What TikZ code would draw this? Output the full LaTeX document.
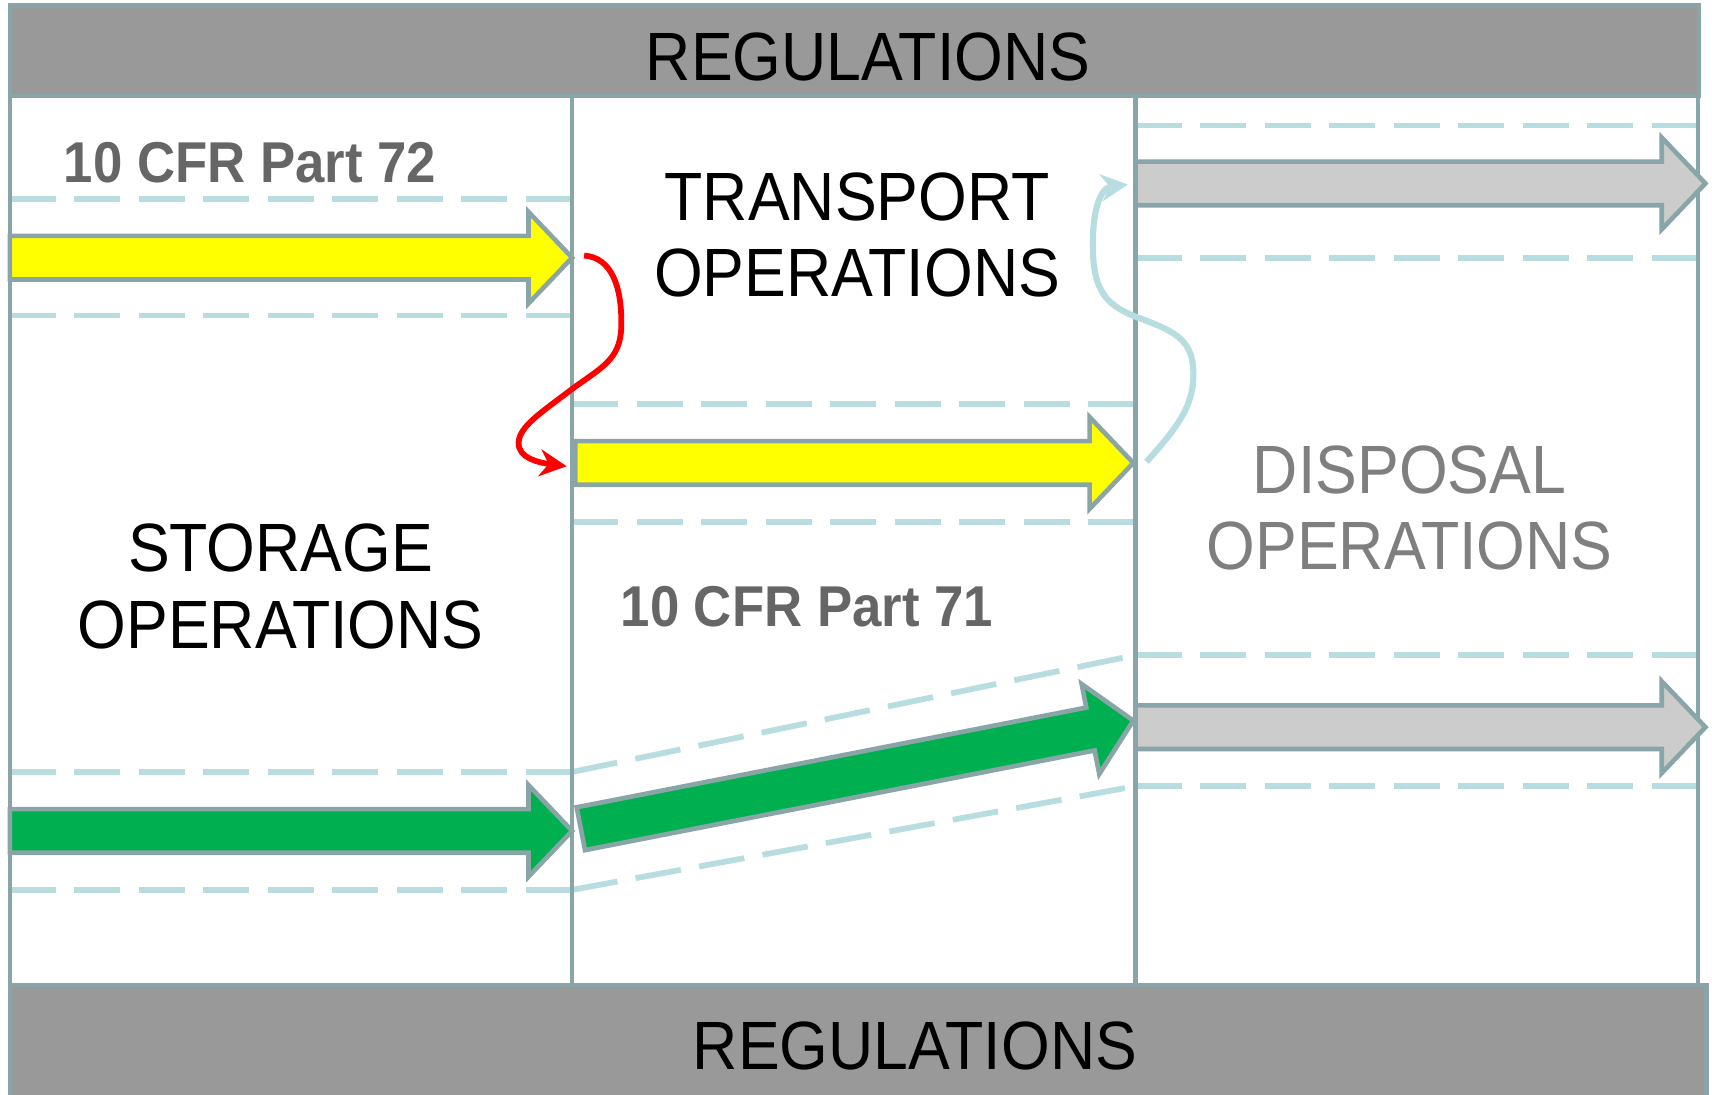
\documentclass[tikz,border=0pt]{standalone}
\usepackage{fontspec}
\setmainfont[FakeStretch=0.916]{Liberation Sans}
\usetikzlibrary{arrows.meta}

\definecolor{bandgray}{HTML}{999999}
\definecolor{framegray}{HTML}{8AA5A8}
\definecolor{lanecyan}{HTML}{B7DDE0}
\definecolor{partgray}{HTML}{666666}
\definecolor{disposalgray}{HTML}{7F7F7F}
\definecolor{flowgray}{HTML}{CCCCCC}
\definecolor{flowgreen}{HTML}{00B050}
\definecolor{flowyellow}{HTML}{FFFF00}

\tikzset{
  colline/.style={draw=framegray, line width=1.2pt},
  band/.style={colline, fill=bandgray},
  lane/.style={draw=lanecyan, line width=1.5pt, dash pattern=on 12pt off 4.8pt},
  ops/.style={align=center, inner sep=0pt, font=\fontsize{17.8}{19.9}\selectfont},
  part/.style={text=partgray, inner sep=0pt, font=\fontsize{15}{17}\selectfont\bfseries},
  blockline/.style={draw=framegray, line width=1.2pt, line join=miter},
  redflow/.style={draw=red, line width=1.5pt, -{Stealth[length=7pt,width=7pt]}},
  cyanflow/.style={draw=lanecyan, line width=1.6pt, -{Stealth[length=7pt,width=7pt]}},
}

% block arrow: fill, tail point, length, angle
\newcommand{\blockarrow}[4]
{
  \draw[blockline, fill=#1, shift={#2}, rotate=#4]
    (0,-20) -- ({#3-40},-20) -- ({#3-40},-42) -- (#3,0)
    -- ({#3-40},42) -- ({#3-40},20) -- (0,20) -- cycle;
}

\begin{document}
\begin{tikzpicture}[x=0.01cm, y=-0.01cm]
  \fill[white] (0,0) rectangle (1568,1002);
  \useasboundingbox (0,0) rectangle (1568,1002);

  % lanes
  \draw[lane] (9,182) -- (524,182);
  \draw[lane] (9,289) -- (524,289);
  \draw[lane] (9,707) -- (524,707);
  \draw[lane] (9,815) -- (524,815);
  \draw[lane] (524,370) -- (1040,370);
  \draw[lane] (524,478) -- (1040,478);
  \draw[lane] (524,707) -- (1040,600);
  \draw[lane] (524,815) -- (1040,720);
  \draw[lane] (1040,115) -- (1555,115);
  \draw[lane] (1040,236) -- (1555,236);
  \draw[lane] (1040,600) -- (1555,600);
  \draw[lane] (1040,720) -- (1555,720);

  % columns and bands
  \draw[colline] (9,88) rectangle (1555,902);
  \draw[colline] (524,88) -- (524,902);
  \draw[colline] (1040,88) -- (1040,902);
  \draw[band] (9,5) rectangle (1556,88);
  \draw[band] (9,902) rectangle (1563,1006);

  \blockarrow{flowyellow}{(9,236)}{515}{0}
  \blockarrow{flowyellow}{(527,424)}{511}{0}
  \blockarrow{flowgreen}{(9,761)}{515}{0}
  \blockarrow{flowgreen}{(532,759)}{515.6}{11.07}
  \blockarrow{flowgray}{(1040,168)}{522}{0}
  \blockarrow{flowgray}{(1040,666)}{522}{0}

  \node[ops] (regtop) at (795,52) {REGULATIONS};
  \node[ops] (regbottom) at (838,958) {REGULATIONS};
  \node[ops] (storage) at (257,537) {STORAGE\\OPERATIONS};
  \node[ops] (transport) at (785,215) {TRANSPORT\\OPERATIONS};
  \node[ops, text=disposalgray] (disposal) at (1291,465) {DISPOSAL\\OPERATIONS};
  \node[part] (part72) at (229,149) {10 CFR Part 72};
  \node[part] (part71) at (739,556) {10 CFR Part 71};

  \coordinate (storeout) at (535,234);
  \coordinate (transin) at (519,427);
  \coordinate (transout) at (1050,423);
  \coordinate (disposalin) at (1033,169);

  % storage to transport
  \draw[redflow] (storeout)
    .. controls (560,236) and (570,262) .. (569,300)
    .. controls (568,330) and (550,337) .. (523,357)
    .. controls (497,377) and (476,390) .. (475,405)
    .. controls (474,420) and (495,424) .. (transin);

  % transport to disposal
  \draw[cyanflow] (transout)
    .. controls (1080,390) and (1094,370) .. (1093,340)
    .. controls (1092,310) and (1075,303) .. (1040,290)
    .. controls (1015,280) and (1002,268) .. (1001,230)
    .. controls (1000,192) and (1008,172) .. (disposalin);
\end{tikzpicture}
\end{document}
